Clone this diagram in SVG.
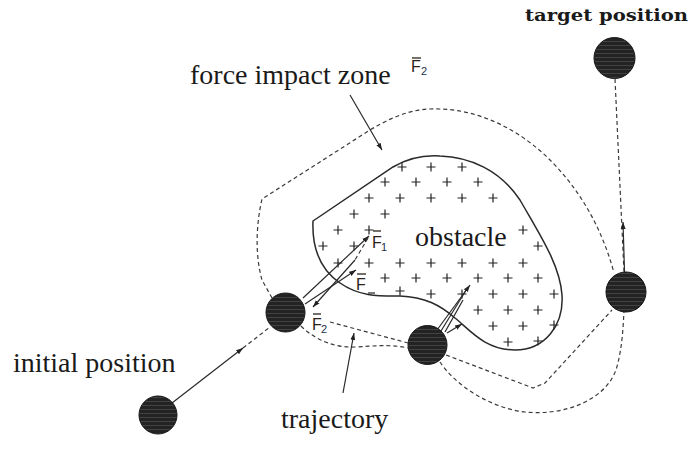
<svg xmlns="http://www.w3.org/2000/svg" xmlns:xlink="http://www.w3.org/1999/xlink" width="692" height="450" viewBox="0 0 692 450">
<style>
.lbl{font-family:"Liberation Serif","Times New Roman",serif;font-size:28px;fill:#1a1a1a}
.tgt{font-family:"DejaVu Serif","Liberation Serif",serif;font-size:16px;font-weight:bold;fill:#1a1a1a}
.f{font-family:"Liberation Sans",Arial,sans-serif;font-size:16px;fill:#2a2218}
.fs{font-family:"Liberation Sans",Arial,sans-serif;font-size:11px;fill:#22304a}
.bar{stroke:#2a2218;stroke-width:1.3}
.dash{fill:none;stroke:#3a3a3a;stroke-width:1.2;stroke-dasharray:4 3}
.sol{fill:none;stroke:#2a2a2a;stroke-width:1.2}
.ball{fill:url(#tex);stroke:#151515;stroke-width:1}
.plus{stroke:#222;stroke-width:1.2;fill:none}
</style>
<defs>
<pattern id="tex" patternUnits="userSpaceOnUse" width="40" height="4">
<rect width="40" height="4" fill="#232323"/>
<path d="M0,1.5 H40" stroke="#4a4a4a" stroke-width="0.8"/>
</pattern>
<marker id="ah" viewBox="0 0 10 10" refX="10" refY="5" markerWidth="7" markerHeight="7" markerUnits="userSpaceOnUse" orient="auto">
<path d="M0,1.5 L10,5 L0,8.5 z" fill="#222"/>
</marker>
<path id="p" d="M-4.5,0 H4.5 M0,-4.5 V4.5"/>
</defs>

<g id="zone">
<path class="dash" d="M272,298 L262,280 C255,255 256,225 262,199 L370,130 C400,112 420,108 440,109 C480,110 520,130 550,160 C580,190 602,228 614,273"/>
</g>

<g id="obstacle">
<path d="M313,221 L393,167 C410,157 425,155 440,156 C470,157 500,170 520,200 C540,235 560,265 562,295 C564,325 545,350 515,350 C485,350 470,330 455,318 C440,305 425,297 400,296 C380,296 360,297 340,283 C318,268 312,245 313,221 Z" fill="none" stroke="#2a2a2a" stroke-width="1.5"/>
<g class="plus">
<use href="#p" x="402" y="167"/><use href="#p" x="431" y="167"/><use href="#p" x="462" y="167"/>
<use href="#p" x="385" y="182"/><use href="#p" x="416" y="182"/><use href="#p" x="447" y="182"/><use href="#p" x="478" y="182"/>
<use href="#p" x="369" y="198"/><use href="#p" x="400" y="198"/><use href="#p" x="431" y="198"/><use href="#p" x="462" y="198"/><use href="#p" x="493" y="198"/>
<use href="#p" x="354" y="214"/><use href="#p" x="385" y="214"/>
<use href="#p" x="338" y="230"/><use href="#p" x="369" y="230"/><use href="#p" x="523" y="230"/>
<use href="#p" x="323" y="246"/><use href="#p" x="354" y="246"/><use href="#p" x="538" y="246"/>
<use href="#p" x="338" y="263"/><use href="#p" x="369" y="263"/><use href="#p" x="400" y="263"/><use href="#p" x="431" y="263"/><use href="#p" x="462" y="263"/><use href="#p" x="493" y="263"/><use href="#p" x="523" y="263"/>
<use href="#p" x="385" y="278"/><use href="#p" x="416" y="278"/><use href="#p" x="447" y="278"/><use href="#p" x="478" y="278"/><use href="#p" x="508" y="278"/><use href="#p" x="538" y="278"/>
<use href="#p" x="400" y="291"/><use href="#p" x="431" y="294"/><use href="#p" x="462" y="294"/><use href="#p" x="493" y="294"/><use href="#p" x="523" y="294"/><use href="#p" x="554" y="294"/>
<path d="M368,293 H375"/>
<use href="#p" x="478" y="310"/><use href="#p" x="508" y="310"/><use href="#p" x="538" y="310"/>
<use href="#p" x="493" y="326"/><use href="#p" x="523" y="326"/><use href="#p" x="554" y="325"/>
<use href="#p" x="508" y="342"/><use href="#p" x="538" y="341"/>
</g>
<text class="lbl" x="415" y="246">obstacle</text>
</g>

<g id="connectors">
<line class="sol" x1="172" y1="403" x2="243" y2="348" marker-end="url(#ah)"/>
<line class="dash" x1="243" y1="348" x2="270" y2="327"/>
<path class="dash" d="M330,322 L408,343"/>
<path class="dash" d="M301,326 C315,340 335,348 355,347 C375,346 390,344 408,348"/>
<path class="dash" d="M446,355 L533,388 L545,383 L612,310"/>
<path class="dash" d="M440,362 C455,385 490,408 525,412 C565,416 605,400 616,370 C622,350 623,330 624,311"/>
<line class="dash" x1="615" y1="79" x2="624" y2="272"/>
<line class="sol" x1="625" y1="288" x2="623" y2="222" marker-end="url(#ah)"/>
<line class="sol" x1="303" y1="298" x2="369" y2="236" marker-end="url(#ah)"/>
<line class="sol" x1="305" y1="304" x2="356" y2="270" marker-end="url(#ah)"/>
<line class="dash" x1="368" y1="238" x2="355" y2="260"/>
<line class="sol" x1="355" y1="260" x2="313" y2="307" marker-end="url(#ah)"/>
<line class="sol" x1="437" y1="330" x2="470" y2="285" marker-end="url(#ah)"/>
<line class="sol" x1="441" y1="331" x2="468" y2="287"/>
<line class="sol" x1="445" y1="332" x2="463" y2="300"/>
<line class="sol" x1="447" y1="333" x2="462" y2="324" marker-end="url(#ah)"/>
<line class="sol" x1="350" y1="95" x2="382" y2="150" marker-end="url(#ah)"/>
<line class="sol" x1="343" y1="393" x2="354" y2="333" marker-end="url(#ah)"/>
</g>

<g id="initial-node"><circle class="ball" cx="158" cy="415" r="19"/></g>
<g id="node-2"><circle class="ball" cx="285.5" cy="312.5" r="19.5"/></g>
<g id="node-3"><circle class="ball" cx="427.5" cy="345" r="19.5"/></g>
<g id="node-right"><circle class="ball" cx="626" cy="292" r="20"/></g>
<g id="target-node"><circle class="ball" cx="614.5" cy="58" r="20.5"/></g>

<g id="labels">
<text class="tgt" x="525" y="21" textLength="163" lengthAdjust="spacingAndGlyphs">target position</text>
<text class="lbl" x="190" y="84">force impact zone</text>
<text class="lbl" x="13" y="372">initial position</text>
<text class="lbl" x="281" y="428">trajectory</text>
<g id="f2-top"><line class="bar" x1="412" y1="58" x2="421" y2="58"/><text class="f" x="411" y="72" font-size="15">F</text><text class="fs" x="421" y="75">2</text></g>
<g id="f1"><line class="bar" x1="373" y1="231" x2="381" y2="231"/><text class="f" x="372" y="248">F</text><text class="fs" x="381" y="251">1</text></g>
<g id="f"><line class="bar" x1="357" y1="274" x2="366" y2="274"/><text class="f" x="356" y="290">F</text></g>
<g id="f2"><line class="bar" x1="313" y1="314" x2="321" y2="314"/><text class="f" x="312" y="330">F</text><text class="fs" x="321" y="333">2</text></g>
</g>
</svg>
